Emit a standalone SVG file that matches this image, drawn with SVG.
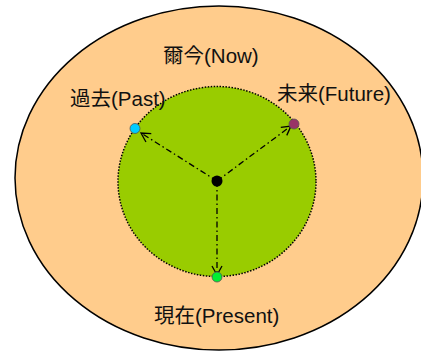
<svg xmlns="http://www.w3.org/2000/svg" width="421" height="352" viewBox="0 0 421 352">
<style>
text{font-family:"Liberation Sans","Noto Sans CJK JP",sans-serif;font-size:20.5px;fill:#111}
.conn{stroke:#000;stroke-width:1.3;fill:none;stroke-dasharray:6,3,1.5,3;marker-end:url(#ah)}
.pt{stroke:#555;stroke-width:0.8}
</style>
<defs>
<marker id="ah" markerWidth="12" markerHeight="12" refX="10" refY="6" orient="auto" markerUnits="userSpaceOnUse">
<path d="M1,1 L10,6 L1,11" fill="none" stroke="#000" stroke-width="1.3"/>
</marker>
</defs>
<g id="now">
<ellipse cx="219" cy="178" rx="204" ry="172" fill="#ffcc8c" stroke="#000" stroke-width="1.5"/>
<text x="163" y="63">爾今(Now)</text>
</g>
<g id="inner">
<ellipse cx="217" cy="181.5" rx="99" ry="95" fill="#99cc00" stroke="#000" stroke-width="1.5" stroke-dasharray="1.5,1.5"/>
</g>
<g id="connectors">
<line class="conn" x1="217" y1="181" x2="141" y2="133"/>
<line class="conn" x1="217" y1="181" x2="291" y2="126"/>
<line class="conn" x1="217" y1="181" x2="217" y2="275"/>
</g>
<g id="center"><circle cx="217" cy="181" r="5.5" fill="#000"/></g>
<g id="past">
<circle class="pt" cx="135" cy="128.5" r="5" fill="#00ccff"/>
<text x="70" y="106">過去(Past)</text>
</g>
<g id="future">
<circle class="pt" cx="294" cy="124" r="5" fill="#993366"/>
<text x="277" y="101">未来(Future)</text>
</g>
<g id="present">
<circle class="pt" cx="217" cy="277" r="5" fill="#00ee33"/>
<text x="154" y="323">現在(Present)</text>
</g>
</svg>
